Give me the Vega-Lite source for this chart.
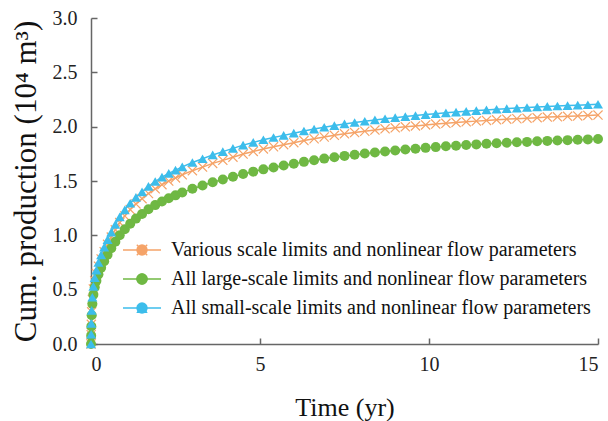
{
  "$schema": "https://vega.github.io/schema/vega-lite/v6.json",
  "width": 507,
  "height": 326,
  "autosize": "none",
  "padding": {"left": 91, "top": 18, "right": 10, "bottom": 77},
  "background": "white",
  "config": {
    "view": {"stroke": null},
    "font": "Liberation Serif",
    "axis": {"labelFont": "Liberation Serif", "titleFont": "Liberation Serif"},
    "legend": {"labelFont": "Liberation Serif"}
  },
  "data": {"values": [
    {"t":0,"s":"V","y":0},{"t":0.005,"s":"V","y":0.086},{"t":0.01,"s":"V","y":0.181},{"t":0.02,"s":"V","y":0.296},{"t":0.04,"s":"V","y":0.411},{"t":0.07,"s":"V","y":0.506},{"t":0.11,"s":"V","y":0.583},{"t":0.16,"s":"V","y":0.649},{"t":0.22,"s":"V","y":0.716},{"t":0.3,"s":"V","y":0.783},
    {"t":0.39,"s":"V","y":0.85},{"t":0.49,"s":"V","y":0.917},{"t":0.6,"s":"V","y":0.984},{"t":0.72,"s":"V","y":1.051},{"t":0.85,"s":"V","y":1.117},{"t":1,"s":"V","y":1.179},{"t":1.16,"s":"V","y":1.237},{"t":1.33,"s":"V","y":1.289},{"t":1.51,"s":"V","y":1.337},{"t":1.7,"s":"V","y":1.385},
    {"t":1.9,"s":"V","y":1.428},{"t":2.1,"s":"V","y":1.466},{"t":2.3,"s":"V","y":1.499},{"t":2.5,"s":"V","y":1.528},{"t":2.7,"s":"V","y":1.557},
    {"t":3,"s":"V","y":1.595},{"t":3.3,"s":"V","y":1.628},{"t":3.6,"s":"V","y":1.662},{"t":3.9,"s":"V","y":1.69},{"t":4.2,"s":"V","y":1.719},{"t":4.5,"s":"V","y":1.748},{"t":4.8,"s":"V","y":1.772},{"t":5.1,"s":"V","y":1.795},{"t":5.4,"s":"V","y":1.815},{"t":5.7,"s":"V","y":1.834},
    {"t":6,"s":"V","y":1.853},{"t":6.3,"s":"V","y":1.872},{"t":6.6,"s":"V","y":1.889},{"t":6.9,"s":"V","y":1.905},{"t":7.2,"s":"V","y":1.92},{"t":7.5,"s":"V","y":1.934},{"t":7.8,"s":"V","y":1.946},{"t":8.1,"s":"V","y":1.958},{"t":8.4,"s":"V","y":1.969},{"t":8.7,"s":"V","y":1.98},
    {"t":9,"s":"V","y":1.989},{"t":9.3,"s":"V","y":1.999},{"t":9.6,"s":"V","y":2.007},{"t":9.9,"s":"V","y":2.016},{"t":10.2,"s":"V","y":2.024},{"t":10.5,"s":"V","y":2.031},{"t":10.8,"s":"V","y":2.038},{"t":11.1,"s":"V","y":2.045},{"t":11.4,"s":"V","y":2.051},{"t":11.7,"s":"V","y":2.057},
    {"t":12,"s":"V","y":2.063},{"t":12.3,"s":"V","y":2.069},{"t":12.6,"s":"V","y":2.073},{"t":12.9,"s":"V","y":2.078},{"t":13.2,"s":"V","y":2.083},{"t":13.5,"s":"V","y":2.088},{"t":13.8,"s":"V","y":2.091},{"t":14.1,"s":"V","y":2.095},{"t":14.4,"s":"V","y":2.099},{"t":14.7,"s":"V","y":2.103},{"t":15,"s":"V","y":2.107},

    {"t":0,"s":"L","y":0},{"t":0.005,"s":"L","y":0.077},{"t":0.01,"s":"L","y":0.162},{"t":0.02,"s":"L","y":0.265},{"t":0.04,"s":"L","y":0.368},{"t":0.07,"s":"L","y":0.453},{"t":0.11,"s":"L","y":0.522},{"t":0.16,"s":"L","y":0.581},{"t":0.22,"s":"L","y":0.641},{"t":0.3,"s":"L","y":0.701},
    {"t":0.39,"s":"L","y":0.761},{"t":0.49,"s":"L","y":0.821},{"t":0.6,"s":"L","y":0.881},{"t":0.72,"s":"L","y":0.941},{"t":0.85,"s":"L","y":1.0},{"t":1,"s":"L","y":1.056},{"t":1.16,"s":"L","y":1.107},{"t":1.33,"s":"L","y":1.154},{"t":1.51,"s":"L","y":1.197},{"t":1.7,"s":"L","y":1.24},
    {"t":1.9,"s":"L","y":1.278},{"t":2.1,"s":"L","y":1.312},{"t":2.3,"s":"L","y":1.342},{"t":2.5,"s":"L","y":1.368},{"t":2.7,"s":"L","y":1.394},
    {"t":3,"s":"L","y":1.428},{"t":3.3,"s":"L","y":1.458},{"t":3.6,"s":"L","y":1.488},{"t":3.9,"s":"L","y":1.513},{"t":4.2,"s":"L","y":1.539},{"t":4.5,"s":"L","y":1.565},{"t":4.8,"s":"L","y":1.586},{"t":5.1,"s":"L","y":1.607},{"t":5.4,"s":"L","y":1.625},{"t":5.7,"s":"L","y":1.642},
    {"t":6,"s":"L","y":1.659},{"t":6.3,"s":"L","y":1.676},{"t":6.6,"s":"L","y":1.691},{"t":6.9,"s":"L","y":1.706},{"t":7.2,"s":"L","y":1.719},{"t":7.5,"s":"L","y":1.731},{"t":7.8,"s":"L","y":1.742},{"t":8.1,"s":"L","y":1.753},{"t":8.4,"s":"L","y":1.763},{"t":8.7,"s":"L","y":1.772},
    {"t":9,"s":"L","y":1.781},{"t":9.3,"s":"L","y":1.79},{"t":9.6,"s":"L","y":1.797},{"t":9.9,"s":"L","y":1.805},{"t":10.2,"s":"L","y":1.812},{"t":10.5,"s":"L","y":1.819},{"t":10.8,"s":"L","y":1.825},{"t":11.1,"s":"L","y":1.831},{"t":11.4,"s":"L","y":1.837},{"t":11.7,"s":"L","y":1.842},
    {"t":12,"s":"L","y":1.847},{"t":12.3,"s":"L","y":1.852},{"t":12.6,"s":"L","y":1.856},{"t":12.9,"s":"L","y":1.86},{"t":13.2,"s":"L","y":1.865},{"t":13.5,"s":"L","y":1.869},{"t":13.8,"s":"L","y":1.872},{"t":14.1,"s":"L","y":1.876},{"t":14.4,"s":"L","y":1.879},{"t":14.7,"s":"L","y":1.883},{"t":15,"s":"L","y":1.886},

    {"t":0,"s":"S","y":0},{"t":0.005,"s":"S","y":0.09},{"t":0.01,"s":"S","y":0.19},{"t":0.02,"s":"S","y":0.31},{"t":0.04,"s":"S","y":0.43},{"t":0.07,"s":"S","y":0.53},{"t":0.11,"s":"S","y":0.61},{"t":0.16,"s":"S","y":0.68},{"t":0.22,"s":"S","y":0.75},{"t":0.3,"s":"S","y":0.82},
    {"t":0.39,"s":"S","y":0.89},{"t":0.49,"s":"S","y":0.96},{"t":0.6,"s":"S","y":1.03},{"t":0.72,"s":"S","y":1.1},{"t":0.85,"s":"S","y":1.17},{"t":1,"s":"S","y":1.235},{"t":1.16,"s":"S","y":1.295},{"t":1.33,"s":"S","y":1.35},{"t":1.51,"s":"S","y":1.4},{"t":1.7,"s":"S","y":1.45},
    {"t":1.9,"s":"S","y":1.495},{"t":2.1,"s":"S","y":1.535},{"t":2.3,"s":"S","y":1.57},{"t":2.5,"s":"S","y":1.6},{"t":2.7,"s":"S","y":1.63},
    {"t":3,"s":"S","y":1.67},{"t":3.3,"s":"S","y":1.705},{"t":3.6,"s":"S","y":1.74},{"t":3.9,"s":"S","y":1.77},{"t":4.2,"s":"S","y":1.8},{"t":4.5,"s":"S","y":1.83},{"t":4.8,"s":"S","y":1.855},{"t":5.1,"s":"S","y":1.88},{"t":5.4,"s":"S","y":1.9},{"t":5.7,"s":"S","y":1.92},
    {"t":6,"s":"S","y":1.94},{"t":6.3,"s":"S","y":1.96},{"t":6.6,"s":"S","y":1.978},{"t":6.9,"s":"S","y":1.995},{"t":7.2,"s":"S","y":2.01},{"t":7.5,"s":"S","y":2.025},{"t":7.8,"s":"S","y":2.038},{"t":8.1,"s":"S","y":2.05},{"t":8.4,"s":"S","y":2.062},{"t":8.7,"s":"S","y":2.073},
    {"t":9,"s":"S","y":2.083},{"t":9.3,"s":"S","y":2.093},{"t":9.6,"s":"S","y":2.102},{"t":9.9,"s":"S","y":2.111},{"t":10.2,"s":"S","y":2.119},{"t":10.5,"s":"S","y":2.127},{"t":10.8,"s":"S","y":2.134},{"t":11.1,"s":"S","y":2.141},{"t":11.4,"s":"S","y":2.148},{"t":11.7,"s":"S","y":2.154},
    {"t":12,"s":"S","y":2.16},{"t":12.3,"s":"S","y":2.166},{"t":12.6,"s":"S","y":2.171},{"t":12.9,"s":"S","y":2.176},{"t":13.2,"s":"S","y":2.181},{"t":13.5,"s":"S","y":2.186},{"t":13.8,"s":"S","y":2.19},{"t":14.1,"s":"S","y":2.194},{"t":14.4,"s":"S","y":2.198},{"t":14.7,"s":"S","y":2.202},{"t":15,"s":"S","y":2.206}
  ]},
  "encoding": {
    "x": {
      "field": "t", "type": "quantitative",
      "scale": {"domain": [0, 15], "nice": false},
      "axis": {
        "values": [0, 5, 10, 15], "format": "d", "grid": false,
        "title": "Time (yr)", "titleFontSize": 26, "titleFontWeight": "normal", "titleColor": "#111", "titlePadding": 20,
        "labelFontSize": 20, "labelColor": "#222", "labelPadding": 16,
        "domainColor": "#666", "domainWidth": 1.5, "tickColor": "#666", "tickWidth": 1.5, "tickSize": -6
      }
    },
    "y": {
      "field": "y", "type": "quantitative",
      "scale": {"domain": [0, 3], "nice": false},
      "axis": {
        "values": [0, 0.5, 1, 1.5, 2, 2.5, 3], "format": ".1f", "grid": false,
        "title": "Cum. production (10⁴ m³)", "titleFontSize": 31, "titleFontWeight": "normal", "titleColor": "#111", "titlePadding": 10,
        "labelFontSize": 20, "labelColor": "#222", "labelPadding": 20,
        "domainColor": "#666", "domainWidth": 1.5, "tickColor": "#666", "tickWidth": 1.5, "tickSize": -6
      }
    }
  },
  "layer": [
    {
      "mark": {"type": "line", "strokeWidth": 1.5},
      "encoding": {
        "stroke": {
          "field": "s", "type": "nominal",
          "scale": {"domain": ["V", "L", "S"], "range": ["#F5A368", "#6FB843", "#3CBDEB"]},
          "legend": {
            "orient": "bottom-left", "offset": 26, "title": null, "padding": 0,
            "symbolType": "stroke", "symbolSize": 1444, "symbolStrokeWidth": 1.5, "symbolOffset": 5, "clipHeight": 20,
            "labelFontSize": 20, "labelColor": "#111", "labelLimit": 600, "labelOffset": 9, "rowPadding": 9,
            "labelExpr": "datum.label == 'V' ? 'Various scale limits and nonlinear flow parameters' : datum.label == 'L' ? 'All large-scale limits and nonlinear flow parameters' : 'All small-scale limits and nonlinear flow parameters'"
          }
        }
      }
    },
    {
      "mark": {"type": "point", "filled": true, "size": 100, "opacity": 1, "strokeWidth": 0},
      "encoding": {
        "fill": {
          "field": "s", "type": "nominal",
          "scale": {"domain": ["V", "L", "S"], "range": ["#F5A368", "#6FB843", "#3CBDEB"]},
          "legend": {
            "orient": "none", "legendX": 41, "legendY": 222, "title": null, "padding": 0,
            "symbolSize": 130, "symbolStrokeWidth": 0, "clipHeight": 20,
            "labelFontSize": 20, "labelLimit": 600, "labelOffset": 0, "rowPadding": 9,
            "labelExpr": "''"
          }
        },
        "shape": {
          "field": "s", "type": "nominal",
          "scale": {"domain": ["V", "L", "S"], "range": ["M0,-0.17L0.83,-1L1,-0.83L0.17,0L1,0.83L0.83,1L0,0.17L-0.83,1L-1,0.83L-0.17,0L-1,-0.83L-0.83,-1Z", "circle", "triangle-up"]},
          "legend": {
            "orient": "none", "legendX": 41, "legendY": 222, "title": null, "padding": 0,
            "symbolSize": 130, "symbolStrokeWidth": 0, "clipHeight": 20,
            "labelFontSize": 20, "labelLimit": 600, "labelOffset": 0, "rowPadding": 9,
            "labelExpr": "''"
          }
        }
      }
    }
  ]
}
